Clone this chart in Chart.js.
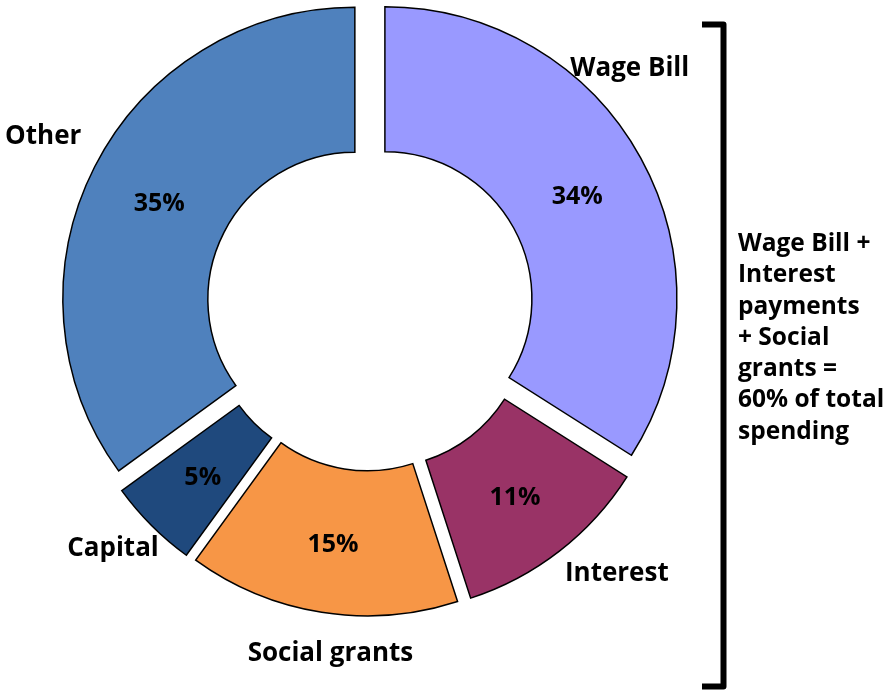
<!DOCTYPE html>
<html lang="en">

<head>
    <meta charset="UTF-8">
    <title>Spending breakdown</title>
    <style>
        body {
            margin: 0;
            background: #ffffff;
        }

        .chart-box {
            position: relative;
            width: 890px;
            height: 691px;
        }
    </style>
    <script src="https://cdn.jsdelivr.net/npm/chart.js"></script>
</head>

<body>

    <div class="chart-box">
        <canvas id="spendChart"></canvas>
    </div>

    <script>
        // spending shares, clockwise from 12 o'clock
        const categories = ['Wage Bill', 'Interest', 'Social grants', 'Capital', 'Other'];
        const shares = [34, 11, 15, 5, 35];
        const sliceColours = ['#9999FF', '#993366', '#F79646', '#1F497D', '#4F81BD'];

        const noteLines = ['Wage Bill +', 'Interest', 'payments', '+ Social', 'grants =', '60% of total', 'spending'];

        const FONT = '"Open Sans", "DejaVu Sans", sans-serif';
        const EXPLODE = 17;      // how far each slice is pulled out from the centre
        const OUTER = 292;
        const INNER = 147;

        // where the category names sit: [clock angle in degrees, distance from slice centre]
        const namePolar = [[46.6, 337], [136.9, 346], [186.4, 331], [227, 335], [297.7, 352]];

        // pull each slice straight out along its middle angle, without growing it
        const ArcEl = (Chart.elements && Chart.elements.ArcElement) || Chart.registry.getElement('arc');
        const arcDraw = ArcEl.prototype.draw;
        ArcEl.prototype.draw = function (ctx) {
            const mid = (this.startAngle + this.endAngle) / 2;
            ctx.save();
            ctx.translate(Math.cos(mid) * EXPLODE, Math.sin(mid) * EXPLODE);
            arcDraw.call(this, ctx);
            ctx.restore();
        };

        const sliceLabels = {
            id: 'sliceLabels',
            afterDatasetsDraw(chart) {
                const ctx = chart.ctx;
                const arcs = chart.getDatasetMeta(0).data;
                ctx.save();
                ctx.fillStyle = '#000000';
                ctx.textAlign = 'center';
                ctx.textBaseline = 'middle';

                arcs.forEach((arc, i) => {
                    const p = arc.getProps(['x', 'y', 'startAngle', 'endAngle', 'innerRadius', 'outerRadius'], true);
                    const mid = (p.startAngle + p.endAngle) / 2;
                    const cx = p.x + Math.cos(mid) * EXPLODE;
                    const cy = p.y + Math.sin(mid) * EXPLODE;
                    const r = (p.innerRadius + p.outerRadius) / 2;
                    ctx.font = 'bold 25px ' + FONT;
                    ctx.fillText(shares[i] + '%', cx + Math.cos(mid) * r, cy + Math.sin(mid) * r + 4);

                    const a = (namePolar[i][0] - 90) * Math.PI / 180;
                    const d = namePolar[i][1];
                    ctx.font = 'bold 26px ' + FONT;
                    ctx.fillText(categories[i], cx + Math.cos(a) * d, cy + Math.sin(a) * d + 1);
                });

                // bracket round the first three slices and its note
                ctx.strokeStyle = '#000000';
                ctx.lineWidth = 6;
                ctx.lineJoin = 'round';
                ctx.beginPath();
                ctx.moveTo(702, 24.5);
                ctx.lineTo(723.5, 24.5);
                ctx.lineTo(723.5, 686.5);
                ctx.lineTo(702, 686.5);
                ctx.stroke();

                ctx.textAlign = 'left';
                ctx.font = 'bold 24.5px ' + FONT;
                noteLines.forEach((line, k) => {
                    ctx.fillText(line, 738, 244 + k * 31.3);
                });
                ctx.restore();
            }
        };

        new Chart(document.getElementById('spendChart'), {
            type: 'doughnut',
            data: {
                labels: categories,
                datasets: [{
                    data: shares,
                    backgroundColor: sliceColours,
                    borderColor: '#000000',
                    borderWidth: 1.5,
                    borderJoinStyle: 'miter'
                }]
            },
            options: {
                responsive: true,
                maintainAspectRatio: false,
                animation: false,
                radius: OUTER,
                cutout: (INNER / OUTER * 100) + '%',
                layout: {
                    padding: { left: 0, right: 150, top: 0, bottom: 77 }
                },
                plugins: {
                    legend: { display: false },
                    tooltip: { enabled: false }
                }
            },
            plugins: [sliceLabels]
        });
    </script>

</body>

</html>
